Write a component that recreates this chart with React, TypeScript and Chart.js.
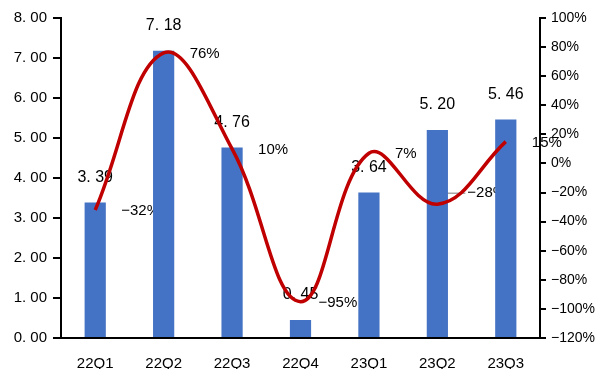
import React, { useEffect, useRef } from "react";
import { Chart, registerables } from "chart.js";

Chart.register(...registerables);

const categories = ["22Q1", "22Q2", "22Q3", "22Q4", "23Q1", "23Q2", "23Q3"];
const barValues = [3.39, 7.18, 4.76, 0.45, 3.64, 5.2, 5.46];
const growthValues = [-32, 76, 10, -95, 7, -28, 15];
const leftTicks = { min: 0, max: 8, step: 1 };
const rightTicks = { min: -120, max: 100, step: 20 };

const FONT = "'Liberation Sans', Arial, sans-serif";

const fmtNum = (v: number) => v.toFixed(2).replace(".", ". ");
const fmtPct = (v: number) => (v < 0 ? "\u2212" + Math.abs(v) : String(v)) + "%";

const labelPlugin = {
  id: "labels",
  beforeDatasetsDraw(chart: any) {
    const ctx = chart.ctx;
    const barMeta = chart.getDatasetMeta(0);
    const lineMeta = chart.getDatasetMeta(1);
    ctx.save();
    ctx.fillStyle = "#000";
    ctx.font = `16px ${FONT}`;
    ctx.textAlign = "center";
    ctx.textBaseline = "middle";
    barMeta.data.forEach((el: any, i: number) => {
      ctx.fillText(fmtNum(barValues[i]), el.x, el.y - 25);
    });
    ctx.font = `15px ${FONT}`;
    ctx.textAlign = "left";
    lineMeta.data.forEach((el: any, i: number) => {
      let dx = 26;
      let dy = 1;
      if (i === 3) dx = 18;
      if (i === 5) {
        dx = 30;
        dy = -11;
        ctx.strokeStyle = "#A6A6A6";
        ctx.lineWidth = 1.5;
        ctx.beginPath();
        ctx.moveTo(el.x + 1, el.y - 2);
        ctx.lineTo(el.x + 9, el.y + dy);
        ctx.lineTo(el.x + dx - 2, el.y + dy);
        ctx.stroke();
      }
      ctx.fillText(fmtPct(growthValues[i]), el.x + dx, el.y + dy);
    });
    ctx.restore();
  },
};

export default function App() {
  const ref = useRef<HTMLCanvasElement>(null);
  useEffect(() => {
    if (!ref.current) return;
    const chart = new Chart(ref.current, {
      type: "bar",
      data: {
        labels: categories,
        datasets: [
          {
            type: "bar",
            data: barValues,
            backgroundColor: "#4472C4",
            yAxisID: "y",
            categoryPercentage: 1,
            barPercentage: 0.31,
            order: 2,
          },
          {
            type: "line",
            data: growthValues,
            borderColor: "#C00000",
            borderWidth: 3.5,
            pointRadius: 0,
            tension: 0.4,
            yAxisID: "y1",
            order: 1,
          } as any,
        ],
      },
      options: {
        responsive: false,
        animation: false,
        layout: { padding: { top: 18, left: 0, right: 0, bottom: 0 } },
        plugins: { legend: { display: false }, tooltip: { enabled: false } },
        scales: {
          x: {
            offset: true,
            grid: { display: false },
            border: { display: true, color: "#000", width: 2 },
            ticks: { color: "#000", font: { family: FONT, size: 15 }, padding: 9 },
            afterFit: (s: any) => { s.height = 31; },
          },
          y: {
            position: "left",
            min: leftTicks.min,
            max: leftTicks.max,
            grid: { display: true, drawOnChartArea: false, drawTicks: true, tickLength: 8, color: "#000", lineWidth: 2 },
            border: { display: true, color: "#000", width: 2 },
            ticks: {
              stepSize: leftTicks.step,
              color: "#000",
              font: { family: FONT, size: 15 },
              padding: 6,
              callback: (v: any) => fmtNum(Number(v)),
            },
            afterFit: (s: any) => { s.width = 61; },
          },
          y1: {
            position: "right",
            min: rightTicks.min,
            max: rightTicks.max,
            grid: { display: true, drawOnChartArea: false, drawTicks: true, tickLength: 6, color: "#000", lineWidth: 2 },
            border: { display: true, color: "#000", width: 2 },
            ticks: {
              stepSize: rightTicks.step,
              color: "#000",
              font: { family: FONT, size: 14 },
              padding: 5,
              callback: (v: any) => fmtPct(Number(v)),
            },
            afterFit: (s: any) => { s.width = 60; },
          },
        },
      },
      plugins: [labelPlugin],
    });
    return () => chart.destroy();
  }, []);
  return (
    <div style={{ position: "absolute", left: 0, top: 0, width: 600, height: 369, background: "#fff" }}>
      <canvas ref={ref} width={600} height={369} style={{ display: "block" }} />
    </div>
  );
}
